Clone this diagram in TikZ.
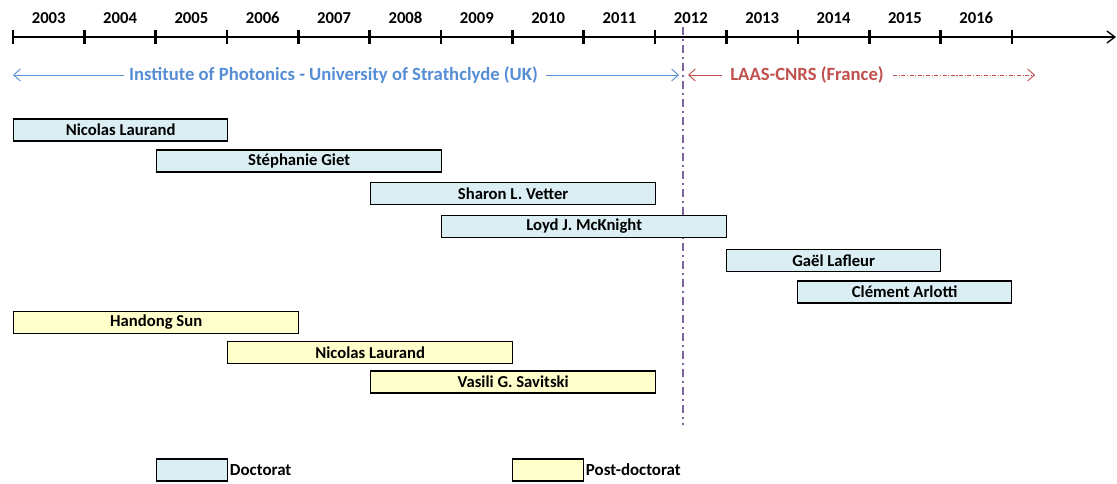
\documentclass[tikz,border=0pt]{standalone}
\usepackage{fontspec}
\setmainfont{Carlito}
\usepackage{xcolor}
\usepackage{tikz}
\usetikzlibrary{
    arrows.meta,
    positioning,
    calc
}
\definecolor{phdblue}{HTML}{DAEEF3}
\definecolor{postdocyellow}{HTML}{FFFFCC}
\definecolor{iopblue}{HTML}{558ED5}
\definecolor{laasred}{HTML}{C0504D}
\definecolor{moveviolet}{HTML}{8064A2}
\tikzset{
    % Doctorate bar (width in px)
    docbar/.style={
        rectangle,
        draw=black,
        fill=phdblue,
        line width=1pt,
        minimum width=#1*0.75pt,
        minimum height=16.5pt,
        inner sep=0pt,
        anchor=west,
        font=\bfseries\fontsize{12.5}{14}\selectfont
    },
    docbar/.default=214,
    % Post-doctorate bar
    postbar/.style={
        docbar=#1,
        fill=postdocyellow
    },
    postbar/.default=285,
    % Year label
    yearlabel/.style={
        font=\bfseries\fontsize{12.5}{14}\selectfont,
        inner sep=0pt
    },
    % Lab label
    lablabel/.style={
        font=\bfseries\fontsize{14}{16}\selectfont,
        text=#1,
        inner sep=0pt
    },
    % Legend text
    legendtext/.style={
        font=\bfseries\fontsize{12.7}{14}\selectfont,
        anchor=west,
        inner sep=1pt
    }
}
\begin{document}
\begin{tikzpicture}[x=0.75pt, y=-0.75pt]
    \useasboundingbox (0,0) rectangle (1117,484);

    % Time axis
    \coordinate (axisstart) at (13,37);
    \coordinate (axisend) at (1116,37);
    \draw[line width=1.5pt, -{Straight Barb[length=6pt, width=9pt, line width=1pt]}] (axisstart) -- (axisend);
    \foreach \i in {0,...,14} {
        \draw[line width=2pt] ({13+71.35*\i},30) -- ({13+71.35*\i},44);
    }
    \foreach \yr [count=\i from 0] in {2003,...,2016} {
        \node[yearlabel] (y\yr) at ({48.7+71.35*\i},18) {\yr};
    }

    % Move to LAAS
    \coordinate (movetop) at (683,27);
    \coordinate (movebottom) at (683,425);
    \draw[moveviolet, line width=1pt, dash pattern=on 6pt off 3pt on 1.5pt off 3pt] (movetop) -- (movebottom);

    % Labs
    \node[lablabel=iopblue] (iop) at (333.5,75) {Institute of Photonics - University of Strathclyde (UK)};
    \coordinate (iopleft) at (13,75);
    \coordinate (iopright) at (679,75);
    \draw[iopblue, line width=0.7pt, -{Straight Barb[length=5pt, width=9pt]}] (iop.west) ++(-5,0) -- (iopleft);
    \draw[iopblue, line width=0.7pt, -{Straight Barb[length=5pt, width=9pt]}] (iop.east) ++(8,0) -- (iopright);

    \node[lablabel=laasred] (laas) at (807,75) {LAAS-CNRS (France)};
    \coordinate (laasleft) at (688,75);
    \coordinate (laasright) at (1035,75);
    \draw[laasred, line width=0.7pt, -{Straight Barb[length=5pt, width=9pt]}] (laas.west) ++(-8,0) -- (laasleft);
    \draw[laasred, line width=0.7pt, dash pattern=on 3pt off 1.2pt on 0.8pt off 1.2pt, -{Straight Barb[length=5pt, width=9pt]}] (laas.east) ++(9,0) -- (laasright);

    % Doctorates
    \node[docbar=214] (laurandphd) at (13,130) {Nicolas Laurand};
    \node[docbar=285] (giet) at (156,161) {Stéphanie Giet};
    \node[docbar=285] (vetter) at (370,193.5) {Sharon L. Vetter};
    \node[docbar=285] (mcknight) at (441,226.5) {Loyd J. McKnight};
    \node[docbar=214] (lafleur) at (726,260.5) {Gaël Lafleur};
    \node[docbar=214] (arlotti) at (797,292) {Clément Arlotti};

    % Post-doctorates
    \node[postbar] (sun) at (13,322.5) {Handong Sun};
    \node[postbar] (laurandpost) at (227,352.5) {Nicolas Laurand};
    \node[postbar] (savitski) at (370,382) {Vasili G. Savitski};

    % Legend
    \node[docbar=71] (legphd) at (156,470) {};
    \node[legendtext, right=0pt of legphd] (legphdtext) {Doctorat};
    \node[postbar=71] (legpost) at (512,470) {};
    \node[legendtext, right=0pt of legpost] (legposttext) {Post-doctorat};

\end{tikzpicture}
\end{document}
